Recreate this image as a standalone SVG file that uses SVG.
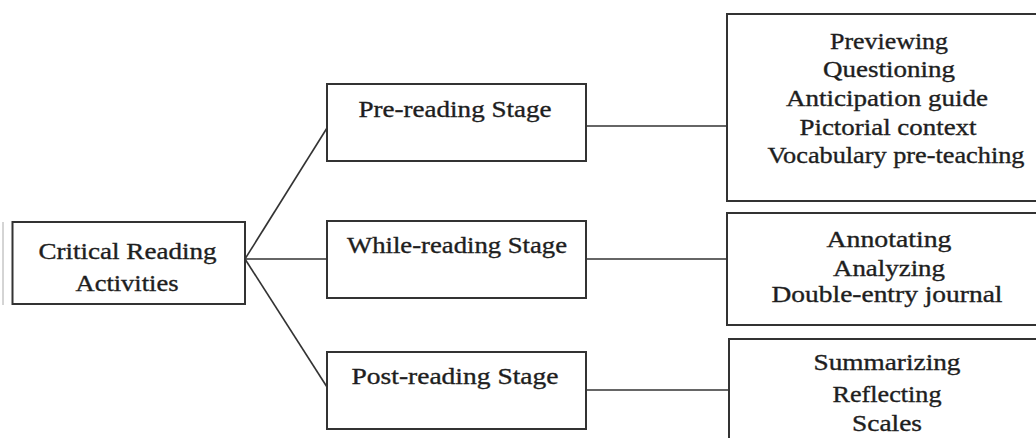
<svg xmlns="http://www.w3.org/2000/svg" width="1036" height="438" viewBox="0 0 1036 438">
<style>
.box{fill:#fff;stroke:#333;stroke-width:2}
.t{font-family:"Liberation Serif","Times New Roman",serif;font-size:23px;fill:#1e1e1e;stroke:#1e1e1e;stroke-width:0.35;text-anchor:middle}
.c{stroke:#333;stroke-width:1.6;fill:none}
</style>
<rect width="1036" height="438" fill="#fff"/>
<g id="connectors">
<line class="c" x1="245" y1="259" x2="327" y2="128"/>
<line class="c" x1="245" y1="259" x2="327" y2="259"/>
<line class="c" x1="245" y1="259" x2="327" y2="387"/>
<line class="c" x1="586" y1="126" x2="727" y2="126"/>
<line class="c" x1="586" y1="259" x2="727" y2="259"/>
<line class="c" x1="586" y1="390" x2="729" y2="390"/>
</g>
<g id="root">
<line x1="3" y1="222" x2="3" y2="305" stroke="#aaa" stroke-width="1"/>
<rect class="box" x="12.5" y="222" width="232.5" height="82"/>
<text class="t" x="127.5" y="259" textLength="178" lengthAdjust="spacingAndGlyphs">Critical Reading</text>
<text class="t" x="127" y="291" textLength="103" lengthAdjust="spacingAndGlyphs">Activities</text>
</g>
<g id="pre">
<rect class="box" x="327" y="84" width="259" height="77"/>
<text class="t" x="455" y="117" textLength="193" lengthAdjust="spacingAndGlyphs">Pre-reading Stage</text>
</g>
<g id="while">
<rect class="box" x="327" y="221" width="259" height="77"/>
<text class="t" x="457" y="253" textLength="220" lengthAdjust="spacingAndGlyphs">While-reading Stage</text>
</g>
<g id="post">
<rect class="box" x="327" y="352" width="259" height="77"/>
<text class="t" x="455" y="384" textLength="207" lengthAdjust="spacingAndGlyphs">Post-reading Stage</text>
</g>
<g id="pre-items">
<rect class="box" x="727" y="14" width="320" height="187"/>
<text class="t" x="889" y="49" textLength="118" lengthAdjust="spacingAndGlyphs">Previewing</text>
<text class="t" x="889" y="77" textLength="132" lengthAdjust="spacingAndGlyphs">Questioning</text>
<text class="t" x="887" y="106" textLength="202" lengthAdjust="spacingAndGlyphs">Anticipation guide</text>
<text class="t" x="888" y="135" textLength="177" lengthAdjust="spacingAndGlyphs">Pictorial context</text>
<text class="t" x="896" y="163" textLength="257" lengthAdjust="spacingAndGlyphs">Vocabulary pre-teaching</text>
</g>
<g id="while-items">
<rect class="box" x="727" y="213" width="320" height="112"/>
<text class="t" x="889" y="247" textLength="125" lengthAdjust="spacingAndGlyphs">Annotating</text>
<text class="t" x="889" y="276" textLength="112" lengthAdjust="spacingAndGlyphs">Analyzing</text>
<text class="t" x="887" y="302" textLength="231" lengthAdjust="spacingAndGlyphs">Double-entry journal</text>
</g>
<g id="post-items">
<rect class="box" x="729" y="339" width="320" height="110"/>
<text class="t" x="887" y="370" textLength="147" lengthAdjust="spacingAndGlyphs">Summarizing</text>
<text class="t" x="887" y="402" textLength="109" lengthAdjust="spacingAndGlyphs">Reflecting</text>
<text class="t" x="887" y="431" textLength="70" lengthAdjust="spacingAndGlyphs">Scales</text>
</g>
</svg>
